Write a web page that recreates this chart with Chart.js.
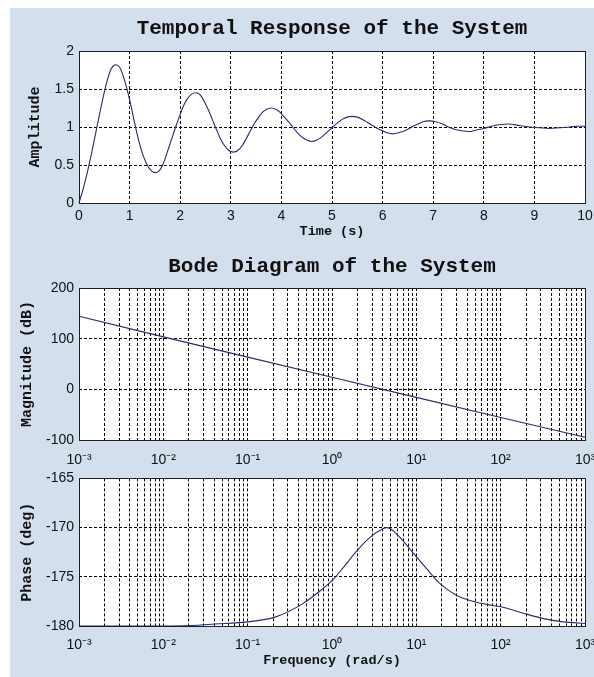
<!DOCTYPE html>
<html>
<head>
<meta charset="utf-8">
<script src="https://cdn.jsdelivr.net/npm/chart.js@4.4.1/dist/chart.umd.min.js"></script>
<style>
html, body { margin: 0; padding: 0; overflow: hidden; background: #fff; width: 594px; height: 677px; }
#panel { position: absolute; left: 10px; top: 8px; width: 584px; height: 669px; background: #d3dfed; }
canvas { position: absolute; left: 0; }
</style>
</head>
<body>
<div id="panel"></div>
<canvas id="timeChart" width="640" height="245" style="top:0px"></canvas>
<canvas id="magChart" width="640" height="232" style="top:238px"></canvas>
<canvas id="phaseChart" width="640" height="212" style="top:465px"></canvas>

<script>
// step response
const time = [0, 0.08, 0.17, 0.25, 0.33, 0.41, 0.49, 0.57, 0.64, 0.72, 0.80, 0.87, 0.94, 1.02, 1.10, 1.18,
  1.26, 1.34, 1.42, 1.50, 1.58, 1.66, 1.74, 1.82, 1.90, 1.98, 2.06, 2.14, 2.22, 2.31, 2.40, 2.48, 2.56,
  2.64, 2.72, 2.80, 2.88, 2.96, 3.05, 3.14, 3.22, 3.30, 3.38, 3.46, 3.54, 3.62, 3.70, 3.80, 3.90, 3.98,
  4.06, 4.14, 4.22, 4.31, 4.40, 4.50, 4.60, 4.70, 4.80, 4.90, 5.00, 5.10, 5.20, 5.30, 5.40, 5.50, 5.60,
  5.70, 5.80, 5.90, 6.00, 6.10, 6.20, 6.30, 6.40, 6.50, 6.60, 6.70, 6.80, 6.92, 7.05, 7.18, 7.30, 7.42,
  7.56, 7.70, 7.85, 8.00, 8.15, 8.30, 8.50, 8.70, 8.90, 9.10, 9.30, 9.50, 9.70, 9.85, 10.0];
const amplitude = [0, 0.18, 0.42, 0.66, 0.92, 1.18, 1.43, 1.64, 1.77, 1.82, 1.79, 1.68, 1.52, 1.30, 1.05, 0.82,
  0.64, 0.51, 0.43, 0.40, 0.42, 0.51, 0.66, 0.82, 0.98, 1.13, 1.27, 1.37, 1.43, 1.45, 1.42, 1.33, 1.22,
  1.09, 0.96, 0.84, 0.75, 0.69, 0.67, 0.69, 0.75, 0.84, 0.94, 1.04, 1.12, 1.19, 1.23, 1.25, 1.23, 1.19,
  1.13, 1.07, 1.00, 0.93, 0.87, 0.83, 0.81, 0.83, 0.87, 0.93, 0.99, 1.05, 1.10, 1.13, 1.14, 1.13, 1.10,
  1.06, 1.02, 0.98, 0.95, 0.92, 0.91, 0.92, 0.94, 0.97, 1.01, 1.04, 1.07, 1.08, 1.07, 1.04, 1.00, 0.97,
  0.95, 0.94, 0.96, 0.98, 1.01, 1.03, 1.04, 1.02, 1.00, 0.99, 0.98, 0.99, 1.00, 1.01, 1.01];

// bode magnitude
const magFreq = [0.001, 0.01, 0.1, 1, 10, 100, 1000];
const magnitude = [144.4, 103.5, 63.6, 23.8, -15.9, -55.6, -94.5];

// bode phase
const phaseFreq = [0.001, 0.01, 0.0217, 0.041, 0.1, 0.211, 0.437, 0.755, 1.0, 1.36, 1.96, 2.82, 4.06, 4.45,
  4.88, 6.4, 9.2, 13.3, 19.1, 30.1, 43.3, 68.4, 100, 170, 321, 553, 1000];
const phase = [-180, -180, -179.95, -179.8, -179.58, -179.1, -177.8, -176.3, -175.4, -174.06, -172.4, -171.0,
  -170.1, -170.0, -170.1, -171.0, -172.6, -174.2, -175.7, -176.9, -177.4, -177.8, -178.05, -178.6, -179.25,
  -179.58, -179.74];

// axis ticks
const decades = [-3, -2, -1, 0, 1, 2, 3];
const decadeLabels = ['10\u207B\u00B3', '10\u207B\u00B2', '10\u207B\u00B9', '10\u2070', '10\u00B9', '10\u00B2', '10\u00B3'];

const lineColor = '#28287a';
const tickFont = { family: 'Liberation Sans, Arial, sans-serif', size: 14 };
const titleFont = { family: 'Liberation Mono, Courier New, monospace', size: 21, weight: 'bold' };

// white plot area + black frame, like matlab axes
const framePlugin = {
  id: 'frame',
  beforeDraw(chart) {
    const { ctx, chartArea: a } = chart;
    ctx.save();
    ctx.fillStyle = '#fff';
    ctx.fillRect(a.left, a.top, a.width, a.height);
    ctx.restore();
  },
  afterDraw(chart) {
    const { ctx, chartArea: a } = chart;
    ctx.save();
    ctx.strokeStyle = '#1e1e1e';
    ctx.lineWidth = 1;
    ctx.strokeRect(Math.round(a.left) + 0.5, Math.round(a.top) + 0.5, Math.round(a.width), Math.round(a.height));
    ctx.restore();
  }
};

function gridOpts() {
  return {
    grid: { color: '#000', lineWidth: 1, drawTicks: false },
    border: { display: false, dash: [3, 2] }
  };
}

// plain numbers: 1 instead of 1.0
const plain = v => String(Math.round(v * 100) / 100);

function yTitle(text, pad) {
  return { display: true, text: text, color: '#111',
    font: { family: 'Liberation Mono, Courier New, monospace', size: 15, weight: 'bold' },
    padding: { top: pad, bottom: 0 } };
}

function xTitle(text, pad) {
  return { display: true, text: text, color: '#111',
    font: { family: 'Liberation Mono, Courier New, monospace', size: 13.5, weight: 'bold' },
    padding: { top: 0, bottom: pad } };
}

function logAxis(height, pad, title) {
  return Object.assign(gridOpts(), {
    type: 'logarithmic',
    min: 0.001,
    max: 1000,
    afterBuildTicks(scale) {
      const t = [];
      decades.forEach(d => {
        if (d === decades[decades.length - 1]) { t.push({ value: Math.pow(10, d) }); return; }
        for (let k = 1; k <= 9; k++) t.push({ value: k * Math.pow(10, d) });
      });
      scale.ticks = t;
    },
    afterFit(scale) { scale.height = height; },
    ticks: {
      autoSkip: false, maxRotation: 0, padding: pad, color: '#111', font: tickFont,
      callback(value) {
        const l = Math.log10(value);
        const e = Math.round(l);
        if (Math.abs(l - e) > 1e-6) return '';
        return decadeLabels[decades.indexOf(e)];
      }
    },
    title: title || { display: false }
  });
}

function baseOptions(extra) {
  return Object.assign({
    responsive: false,
    animation: false,
    events: [],
    plugins: { legend: { display: false }, tooltip: { enabled: false } }
  }, extra);
}

// Temporal response
new Chart(document.getElementById('timeChart').getContext('2d'), {
  type: 'line',
  data: {
    datasets: [{
      data: time.map((t, i) => ({ x: t, y: amplitude[i] })),
      borderColor: lineColor, borderWidth: 1.1, pointRadius: 0,
      cubicInterpolationMode: 'monotone', clip: 2
    }]
  },
  options: baseOptions({
    layout: { padding: { left: 0, right: 55, top: 0, bottom: 0 } },
    plugins: {
      legend: { display: false }, tooltip: { enabled: false },
      title: { display: true, text: 'Temporal Response of the System', color: '#111', font: titleFont,
        fullSize: false, padding: { top: 16.4, bottom: 9.4 } }
    },
    scales: {
      x: Object.assign(gridOpts(), {
        type: 'linear', min: 0, max: 10,
        afterFit(scale) { scale.height = 42; },
        ticks: { stepSize: 1, padding: 5, color: '#111', font: tickFont, maxRotation: 0, callback: plain },
        title: xTitle('Time (s)', 5)
      }),
      y: Object.assign(gridOpts(), {
        min: 0, max: 2,
        afterFit(scale) { scale.width = 79; },
        ticks: { stepSize: 0.5, padding: 5, color: '#111', font: tickFont, callback: plain },
        title: yTitle('Amplitude', 26.5)
      })
    }
  }),
  plugins: [framePlugin]
});

// Bode magnitude
new Chart(document.getElementById('magChart').getContext('2d'), {
  type: 'line',
  data: {
    datasets: [{
      data: magFreq.map((f, i) => ({ x: f, y: magnitude[i] })),
      borderColor: lineColor, borderWidth: 1.1, pointRadius: 0, clip: 2
    }]
  },
  options: baseOptions({
    layout: { padding: { left: 0, right: 55, top: 0, bottom: 0 } },
    plugins: {
      legend: { display: false }, tooltip: { enabled: false },
      title: { display: true, text: 'Bode Diagram of the System', color: '#111', font: titleFont,
        fullSize: false, padding: { top: 16.4, bottom: 8.4 } }
    },
    scales: {
      x: logAxis(30, 12),
      y: Object.assign(gridOpts(), {
        min: -100, max: 200,
        afterFit(scale) { scale.width = 79; },
        ticks: { stepSize: 100, padding: 5, color: '#111', font: tickFont, callback: plain },
        title: yTitle('Magnitude (dB)', 18.5)
      })
    }
  }),
  plugins: [framePlugin]
});

// Bode phase
new Chart(document.getElementById('phaseChart').getContext('2d'), {
  type: 'line',
  data: {
    datasets: [{
      data: phaseFreq.map((f, i) => ({ x: f, y: phase[i] })),
      borderColor: lineColor, borderWidth: 1.1, pointRadius: 0,
      cubicInterpolationMode: 'monotone', clip: 2
    }]
  },
  options: baseOptions({
    layout: { padding: { left: 0, right: 55, top: 10, bottom: 0 } },
    scales: {
      x: logAxis(51, 11, xTitle('Frequency (rad/s)', 8.4)),
      y: Object.assign(gridOpts(), {
        min: -180, max: -165,
        afterFit(scale) { scale.width = 79; },
        ticks: { stepSize: 5, padding: 5, color: '#111', font: tickFont, callback: plain },
        title: yTitle('Phase (deg)', 18.5)
      })
    }
  }),
  plugins: [framePlugin]
});
</script>
</body>
</html>
